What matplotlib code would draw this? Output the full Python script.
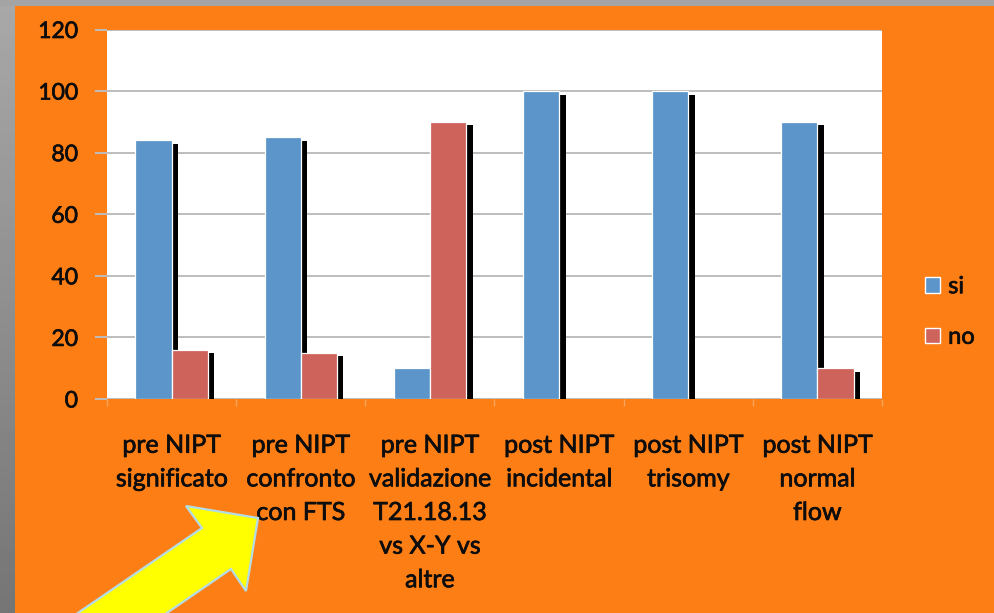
import numpy as np
import matplotlib
matplotlib.use("Agg")
import matplotlib.pyplot as plt
from matplotlib import patheffects
from matplotlib.patches import Patch, Polygon, Rectangle

plt.rcParams["font.family"] = ["Lato", "DejaVu Sans"]

categories = [
    "pre NIPT\nsignificato",
    "pre NIPT\nconfronto\ncon FTS",
    "pre NIPT\nvalidazione\nT21.18.13\nvs X-Y vs\naltre",
    "post NIPT\nincidental",
    "post NIPT\ntrisomy",
    "post NIPT\nnormal\nflow",
]
si_values = [84, 85, 10, 100, 100, 90]
no_values = [16, 15, 90, 0, 0, 10]
series_names = ["si", "no"]
y_ticks = [0, 20, 40, 60, 80, 100, 120]

ORANGE = "#fd7e14"
BLUE = "#5b95c9"
RED = "#cd635b"
GRID = "#bdbdbd"
TEXT = "#0d0d0d"

W, H, DPI = 994, 613, 100
fig = plt.figure(figsize=(W / DPI, H / DPI), dpi=DPI)
fig.patch.set_facecolor(ORANGE)


def px(x, y):
    """pixel position (from top-left) -> figure fraction"""
    return x / W, 1 - y / H


# grey slide frame on the left and top
grad = fig.add_axes([0, 0, 15 / W, 1], zorder=0)
grad.imshow(np.linspace(0.66, 0.46, 200).reshape(-1, 1), cmap="gray",
            vmin=0, vmax=1, aspect="auto", extent=[0, 1, 0, 1])
grad.axis("off")
fig.patches.append(Rectangle(px(0, 6), 1, 6 / H, transform=fig.transFigure,
                             facecolor="#a4a4a4", edgecolor="none", zorder=0))

x0, x1 = px(107, 0)[0], px(882, 0)[0]
y0, y1 = px(0, 399)[1], px(0, 29.5)[1]
ax = fig.add_axes([x0, y0, x1 - x0, y1 - y0], zorder=1)
ax.set_facecolor("white")

x = np.arange(len(categories))
bw = 0.28
shadow = [patheffects.SimplePatchShadow(offset=(4.7, -2.6), shadow_rgbFace="black", alpha=1.0),
          patheffects.Normal()]
for i in range(len(categories)):
    for vals, off, col in ((si_values, -bw / 2, BLUE), (no_values, bw / 2, RED)):
        v = vals[i]
        if v <= 0:
            continue
        b = ax.bar(x[i] + off, v, width=bw, color=col, edgecolor="white",
                   linewidth=0.9, zorder=3)
        for p in b.patches:
            p.set_path_effects(shadow)

# slightly heavier text strokes
heavy = [patheffects.withStroke(linewidth=0.5, foreground=TEXT)]

ax.set_xlim(-0.5, len(categories) - 0.5)
ax.set_ylim(0, 120)
ax.set_yticks(y_ticks)
ax.set_yticklabels([str(t) for t in y_ticks], fontsize=16.5, color=TEXT,
                   path_effects=heavy)
ax.yaxis.grid(True, color=GRID, linewidth=1.4, zorder=0)
ax.set_axisbelow(True)
ax.tick_params(axis="y", length=9, width=1.4, color=GRID, pad=12)

ax.set_xticks(x)
ax.set_xticklabels(categories, fontsize=18, color=TEXT, linespacing=1.56,
                   path_effects=heavy)
ax.tick_params(axis="x", length=0, pad=25)
ax.set_xticks(np.arange(-0.5, len(categories)), minor=True)
ax.tick_params(axis="x", which="minor", length=5, width=1, color="#f7a45c")
for s in ax.spines.values():
    s.set_visible(False)

handles = [Patch(facecolor=BLUE, edgecolor="white", linewidth=1),
           Patch(facecolor=RED, edgecolor="white", linewidth=1)]
leg = fig.legend(handles, series_names, loc="center left",
                 bbox_to_anchor=(px(904, 0)[0], px(0, 312)[1]), frameon=False,
                 fontsize=17, handlelength=0.62, handleheight=0.62,
                 handletextpad=0.35, labelspacing=1.25)
for t in leg.get_texts():
    t.set_color(TEXT)
    t.set_path_effects(heavy)

# yellow arrow pointing at the second category
arrow_pts = [(53, 630), (202, 528), (186, 506), (258, 518), (246, 591),
             (231, 569), (142, 630)]
fig.patches.append(Polygon([px(a, b) for a, b in arrow_pts], closed=True,
                           transform=fig.transFigure, facecolor="#ffff00",
                           edgecolor="#b4dce6", linewidth=1.6, zorder=5))

fig.savefig("out.png", dpi=DPI, facecolor=fig.get_facecolor())
